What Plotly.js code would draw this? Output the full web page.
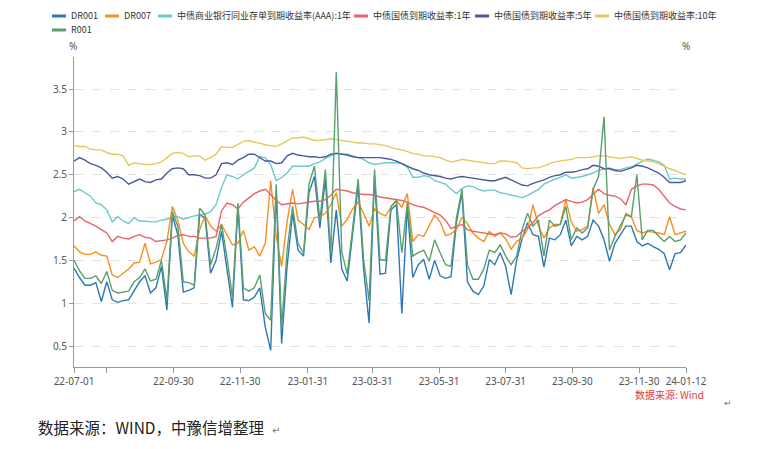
<!DOCTYPE html>
<html><head><meta charset="utf-8">
<script src="https://cdn.plot.ly/plotly-3.0.1.min.js"></script>
<style>html,body{margin:0;padding:0;background:#fff;}#chart{width:764px;height:449px;}</style>
</head><body><div id="chart"></div>
<script>
const dates = ["2022-07-01","2022-07-06","2022-07-11","2022-07-16","2022-07-21","2022-07-26","2022-07-31","2022-08-05","2022-08-10","2022-08-15","2022-08-20","2022-08-25","2022-08-30","2022-09-04","2022-09-09","2022-09-14","2022-09-19","2022-09-24","2022-09-29","2022-10-04","2022-10-09","2022-10-14","2022-10-19","2022-10-24","2022-10-29","2022-11-03","2022-11-08","2022-11-13","2022-11-18","2022-11-23","2022-11-28","2022-12-03","2022-12-08","2022-12-13","2022-12-18","2022-12-23","2022-12-28","2023-01-02","2023-01-07","2023-01-12","2023-01-17","2023-01-22","2023-01-27","2023-02-01","2023-02-06","2023-02-11","2023-02-16","2023-02-21","2023-02-26","2023-03-03","2023-03-08","2023-03-13","2023-03-18","2023-03-23","2023-03-28","2023-04-02","2023-04-07","2023-04-12","2023-04-17","2023-04-22","2023-04-27","2023-05-02","2023-05-07","2023-05-12","2023-05-17","2023-05-22","2023-05-27","2023-06-01","2023-06-06","2023-06-11","2023-06-16","2023-06-21","2023-06-26","2023-07-01","2023-07-06","2023-07-11","2023-07-16","2023-07-21","2023-07-26","2023-07-31","2023-08-05","2023-08-10","2023-08-15","2023-08-20","2023-08-25","2023-08-30","2023-09-04","2023-09-09","2023-09-14","2023-09-19","2023-09-24","2023-09-29","2023-10-04","2023-10-09","2023-10-14","2023-10-19","2023-10-24","2023-10-29","2023-11-03","2023-11-08","2023-11-13","2023-11-18","2023-11-23","2023-11-28","2023-12-03","2023-12-08","2023-12-13","2023-12-18","2023-12-23","2023-12-28","2024-01-02","2024-01-07","2024-01-12"];

const dr001 = [1.41,1.30,1.21,1.21,1.24,1.02,1.25,1.04,1.01,1.03,
1.04,1.15,1.25,1.32,1.12,1.18,1.43,0.92,2.03,1.80,
1.13,1.15,1.18,2.04,1.99,1.35,1.50,1.84,1.41,0.95,
2.13,1.04,1.03,1.07,1.18,0.72,0.45,2.32,0.53,1.43,
2.05,1.62,1.55,2.29,2.48,1.88,2.45,1.47,2.09,1.40,
1.26,1.82,2.37,1.40,0.77,2.48,1.34,1.35,2.09,2.15,
0.88,2.13,1.30,1.45,1.51,1.28,1.50,1.32,1.29,1.31,
1.95,2.29,1.25,1.14,1.10,1.20,1.51,1.45,1.59,1.43,
1.10,1.50,1.75,1.94,1.80,1.78,1.42,1.76,1.74,1.80,
1.97,1.67,1.78,1.74,1.78,1.97,1.90,1.74,1.49,1.70,
1.80,1.90,1.90,1.72,1.67,1.70,1.66,1.63,1.58,1.39,
1.58,1.59,1.68];

const dr007 = [1.67,1.60,1.57,1.57,1.60,1.56,1.55,1.33,1.30,1.35,
1.40,1.47,1.48,1.70,1.46,1.48,1.51,1.72,2.13,1.97,
1.70,1.60,1.55,1.86,2.02,1.90,1.84,1.92,1.80,1.68,
1.70,1.85,1.62,1.66,1.55,1.70,2.43,1.78,1.43,1.95,
2.33,1.97,1.92,1.86,2.00,2.01,2.05,2.15,2.29,1.90,
1.98,2.10,2.18,2.05,1.90,2.10,2.05,2.02,2.12,2.20,
2.12,2.28,1.72,1.80,1.78,1.90,2.03,1.95,1.79,1.81,
1.86,2.00,1.93,1.82,1.76,1.72,1.84,1.78,1.82,1.75,
1.63,1.72,1.76,1.86,2.15,1.90,1.76,1.88,1.92,1.92,
2.21,1.95,1.84,1.86,1.90,2.35,2.05,2.15,1.92,1.80,
1.86,2.05,2.01,1.85,1.82,1.84,1.83,1.82,1.80,2.01,
1.80,1.82,1.84];

const ncd1y = [2.30,2.33,2.29,2.25,2.17,2.15,2.09,1.95,2.01,1.96,
1.93,2.00,1.96,1.96,1.95,1.95,1.97,1.98,2.01,2.01,
1.98,2.00,2.02,2.03,2.04,2.07,2.15,2.35,2.50,2.48,
2.45,2.50,2.54,2.58,2.71,2.70,2.62,2.43,2.47,2.52,
2.60,2.60,2.60,2.60,2.63,2.65,2.69,2.72,2.75,2.74,
2.74,2.72,2.70,2.68,2.64,2.62,2.63,2.64,2.64,2.64,
2.63,2.59,2.47,2.47,2.49,2.48,2.43,2.41,2.39,2.33,
2.28,2.34,2.37,2.36,2.33,2.31,2.32,2.32,2.29,2.28,
2.26,2.25,2.23,2.26,2.30,2.33,2.39,2.42,2.45,2.47,
2.50,2.46,2.47,2.48,2.50,2.52,2.55,2.57,2.58,2.56,
2.56,2.58,2.59,2.63,2.66,2.68,2.67,2.65,2.61,2.45,
2.46,2.45,2.45];

const gov1y = [1.96,2.01,1.96,1.93,1.90,1.86,1.82,1.72,1.78,1.76,
1.75,1.78,1.80,1.77,1.76,1.72,1.73,1.74,1.76,1.79,
1.80,1.78,1.78,1.76,1.76,1.76,1.78,2.08,2.17,2.15,
2.10,2.18,2.23,2.28,2.31,2.33,2.27,2.20,2.15,2.16,
2.17,2.16,2.17,2.18,2.19,2.19,2.21,2.26,2.33,2.32,
2.31,2.29,2.28,2.27,2.27,2.26,2.24,2.23,2.22,2.21,
2.20,2.18,2.15,2.13,2.12,2.09,2.06,2.03,1.97,1.87,
1.90,1.92,1.86,1.84,1.83,1.82,1.81,1.80,1.82,1.81,
1.77,1.78,1.84,1.88,1.94,2.02,2.06,2.09,2.14,2.18,
2.21,2.19,2.17,2.18,2.21,2.27,2.33,2.28,2.26,2.25,
2.22,2.15,2.33,2.37,2.39,2.39,2.38,2.33,2.25,2.17,
2.13,2.10,2.09];

const gov5y = [2.66,2.70,2.67,2.63,2.61,2.58,2.53,2.46,2.48,2.45,
2.39,2.42,2.45,2.42,2.41,2.44,2.45,2.52,2.57,2.58,
2.57,2.50,2.50,2.49,2.46,2.46,2.50,2.63,2.64,2.62,
2.67,2.70,2.74,2.74,2.70,2.66,2.66,2.63,2.64,2.72,
2.75,2.73,2.72,2.71,2.71,2.70,2.71,2.74,2.75,2.74,
2.73,2.71,2.70,2.70,2.70,2.70,2.70,2.69,2.68,2.66,
2.63,2.60,2.57,2.55,2.52,2.50,2.49,2.48,2.46,2.45,
2.47,2.48,2.47,2.46,2.45,2.44,2.43,2.43,2.45,2.47,
2.44,2.41,2.38,2.37,2.40,2.42,2.44,2.47,2.49,2.50,
2.53,2.53,2.54,2.56,2.57,2.61,2.60,2.57,2.57,2.55,
2.54,2.56,2.58,2.61,2.60,2.58,2.55,2.52,2.47,2.41,
2.41,2.41,2.43];

const gov10y = [2.84,2.83,2.83,2.80,2.79,2.79,2.76,2.74,2.74,2.72,
2.61,2.64,2.63,2.62,2.62,2.63,2.65,2.70,2.75,2.76,
2.75,2.71,2.72,2.72,2.67,2.70,2.74,2.83,2.82,2.82,
2.86,2.89,2.90,2.88,2.87,2.85,2.84,2.83,2.86,2.90,
2.93,2.93,2.94,2.92,2.90,2.90,2.91,2.92,2.91,2.90,
2.89,2.88,2.87,2.87,2.86,2.86,2.85,2.84,2.82,2.80,
2.79,2.77,2.75,2.74,2.72,2.72,2.71,2.70,2.67,2.65,
2.66,2.68,2.67,2.66,2.65,2.64,2.63,2.63,2.66,2.66,
2.65,2.64,2.58,2.57,2.58,2.58,2.60,2.63,2.65,2.66,
2.67,2.68,2.70,2.70,2.70,2.71,2.72,2.72,2.71,2.70,
2.69,2.70,2.71,2.69,2.67,2.66,2.65,2.63,2.60,2.57,
2.55,2.52,2.50];

const r001 = [1.50,1.38,1.29,1.29,1.32,1.23,1.37,1.15,1.12,1.13,
1.14,1.25,1.30,1.40,1.26,1.28,1.50,1.04,2.07,1.90,
1.25,1.24,1.21,2.11,2.03,1.45,1.64,1.92,1.53,1.07,
2.17,1.18,1.14,1.18,1.33,0.88,0.80,2.39,0.72,1.62,
2.13,1.70,1.58,2.39,2.60,1.97,2.56,1.58,3.70,1.60,
1.34,1.88,2.45,1.51,1.03,2.56,1.51,1.50,2.13,2.20,
1.59,2.17,1.55,1.59,1.62,1.49,1.74,1.59,1.45,1.43,
2.00,2.33,1.45,1.28,1.28,1.40,1.62,1.59,1.68,1.55,
1.45,1.55,1.86,2.05,1.90,1.97,1.55,1.97,1.90,1.92,
2.13,1.74,1.88,1.82,1.88,2.33,2.48,3.18,1.62,1.78,
1.90,2.03,2.01,2.50,1.74,1.85,1.85,1.78,1.72,1.78,
1.72,1.74,1.82];

const seriesNames = ["DR001","DR007","中债商业银行同业存单到期收益率(AAA):1年","中债国债到期收益率:1年","中债国债到期收益率:5年","中债国债到期收益率:10年","R001"];
const seriesValues = [dr001, dr007, ncd1y, gov1y, gov5y, gov10y, r001];
const seriesColors = ["#2E78B4","#F7901E","#6CC9CB","#E8636A","#4A5A9C","#EAC65C","#5B9F6E"];

const xTickVals = ["2022-07-01","2022-07-31","2022-09-30","2022-11-30","2023-01-31","2023-03-31","2023-05-31","2023-07-31","2023-09-30","2023-11-30","2024-01-12"];
const xTickText = ["22-07-01","","22-09-30","22-11-30","23-01-31","23-03-31","23-05-31","23-07-31","23-09-30","23-11-30","24-01-12"];
const yTickVals = [0.5,1,1.5,2,2.5,3,3.5];
const yTickText = ["0.5","1","1.5","2","2.5","3","3.5"];

// plot-area geometry (pixels) used to place legend/notes in paper coords
const L = 74, R = 686, T = 57, B = 367;
const px = v => (v - L) / (R - L);
const py = v => (B - v) / (B - T);

const traces = seriesNames.map((n, k) => ({
  type: "scatter", mode: "lines", name: n, x: dates, y: seriesValues[k],
  line: {color: seriesColors[k], width: 1.4}, showlegend: false, hoverinfo: "skip"
}));

const legendPos = [[52,16],[105,16],[158,16],[354,16],[475,16],[595,16],[52,30]];
const shapes = [];
const annotations = [];
seriesNames.forEach((n, k) => {
  const [lx, ly] = legendPos[k];
  shapes.push({type:"line", xref:"paper", yref:"paper", x0:px(lx), x1:px(lx+14), y0:py(ly), y1:py(ly),
    line:{color:seriesColors[k], width:3}});
  annotations.push({xref:"paper", yref:"paper", x:px(lx+17), y:py(ly), xanchor:"left", yanchor:"middle",
    text:n, showarrow:false, font:{family:"Noto Sans CJK SC, Noto Sans", size:9, color:"#333"}});
});
annotations.push({xref:"paper", yref:"paper", x:px(73), y:py(46), text:"%", showarrow:false, xanchor:"center", yanchor:"middle", font:{family:"Noto Sans", size:10, color:"#555"}});
annotations.push({xref:"paper", yref:"paper", x:px(686), y:py(46), text:"%", showarrow:false, xanchor:"center", yanchor:"middle", font:{family:"Noto Sans", size:10, color:"#555"}});
annotations.push({xref:"paper", yref:"paper", x:px(706), y:py(394), text:"数据来源: Wind", showarrow:false, xanchor:"right", yanchor:"middle", font:{family:"Noto Sans CJK SC", size:10, color:"#E0403C"}});
annotations.push({xref:"paper", yref:"paper", x:px(728), y:py(403), text:"↵", showarrow:false, xanchor:"center", yanchor:"middle", font:{family:"DejaVu Sans", size:9, color:"#777"}});
annotations.push({xref:"paper", yref:"paper", x:px(36), y:py(427), text:"数据来源：WIND，中豫信增整理", showarrow:false, xanchor:"left", yanchor:"middle", font:{family:"Noto Sans CJK SC", size:15.5, color:"#222"}});
annotations.push({xref:"paper", yref:"paper", x:px(276), y:py(430), text:"↵", showarrow:false, xanchor:"center", yanchor:"middle", font:{family:"DejaVu Sans", size:10, color:"#777"}});

const yCommon = {range:[0.255,3.875], tickvals:yTickVals, ticktext:yTickText, ticks:"outside", ticklen:4,
  tickcolor:"#9a9a9a", showline:true, linecolor:"#9a9a9a", linewidth:1, zeroline:false,
  tickfont:{family:"Noto Sans", size:10, color:"#555"}, fixedrange:true};

const layout = {
  width:764, height:449, margin:{l:L, r:764-R, t:T, b:449-B},
  paper_bgcolor:"#fff", plot_bgcolor:"#fff", showlegend:false,
  xaxis:{type:"date", range:["2022-07-01","2024-01-12"], tickvals:xTickVals, ticktext:xTickText,
    ticks:"outside", ticklen:5, tickcolor:"#9a9a9a", showline:true, linecolor:"#9a9a9a", showgrid:false,
    zeroline:false, tickfont:{family:"Noto Sans", size:10, color:"#555"}, fixedrange:true},
  yaxis:Object.assign({}, yCommon, {side:"left", showgrid:true, gridcolor:"#e2e2e2", griddash:"dash", gridwidth:1}),
  yaxis2:Object.assign({}, yCommon, {side:"right", overlaying:"y", showgrid:false, anchor:"x"}),
  shapes: shapes, annotations: annotations
};

Plotly.newPlot("chart", traces, layout, {displayModeBar:false, staticPlot:true});
</script></body></html>
